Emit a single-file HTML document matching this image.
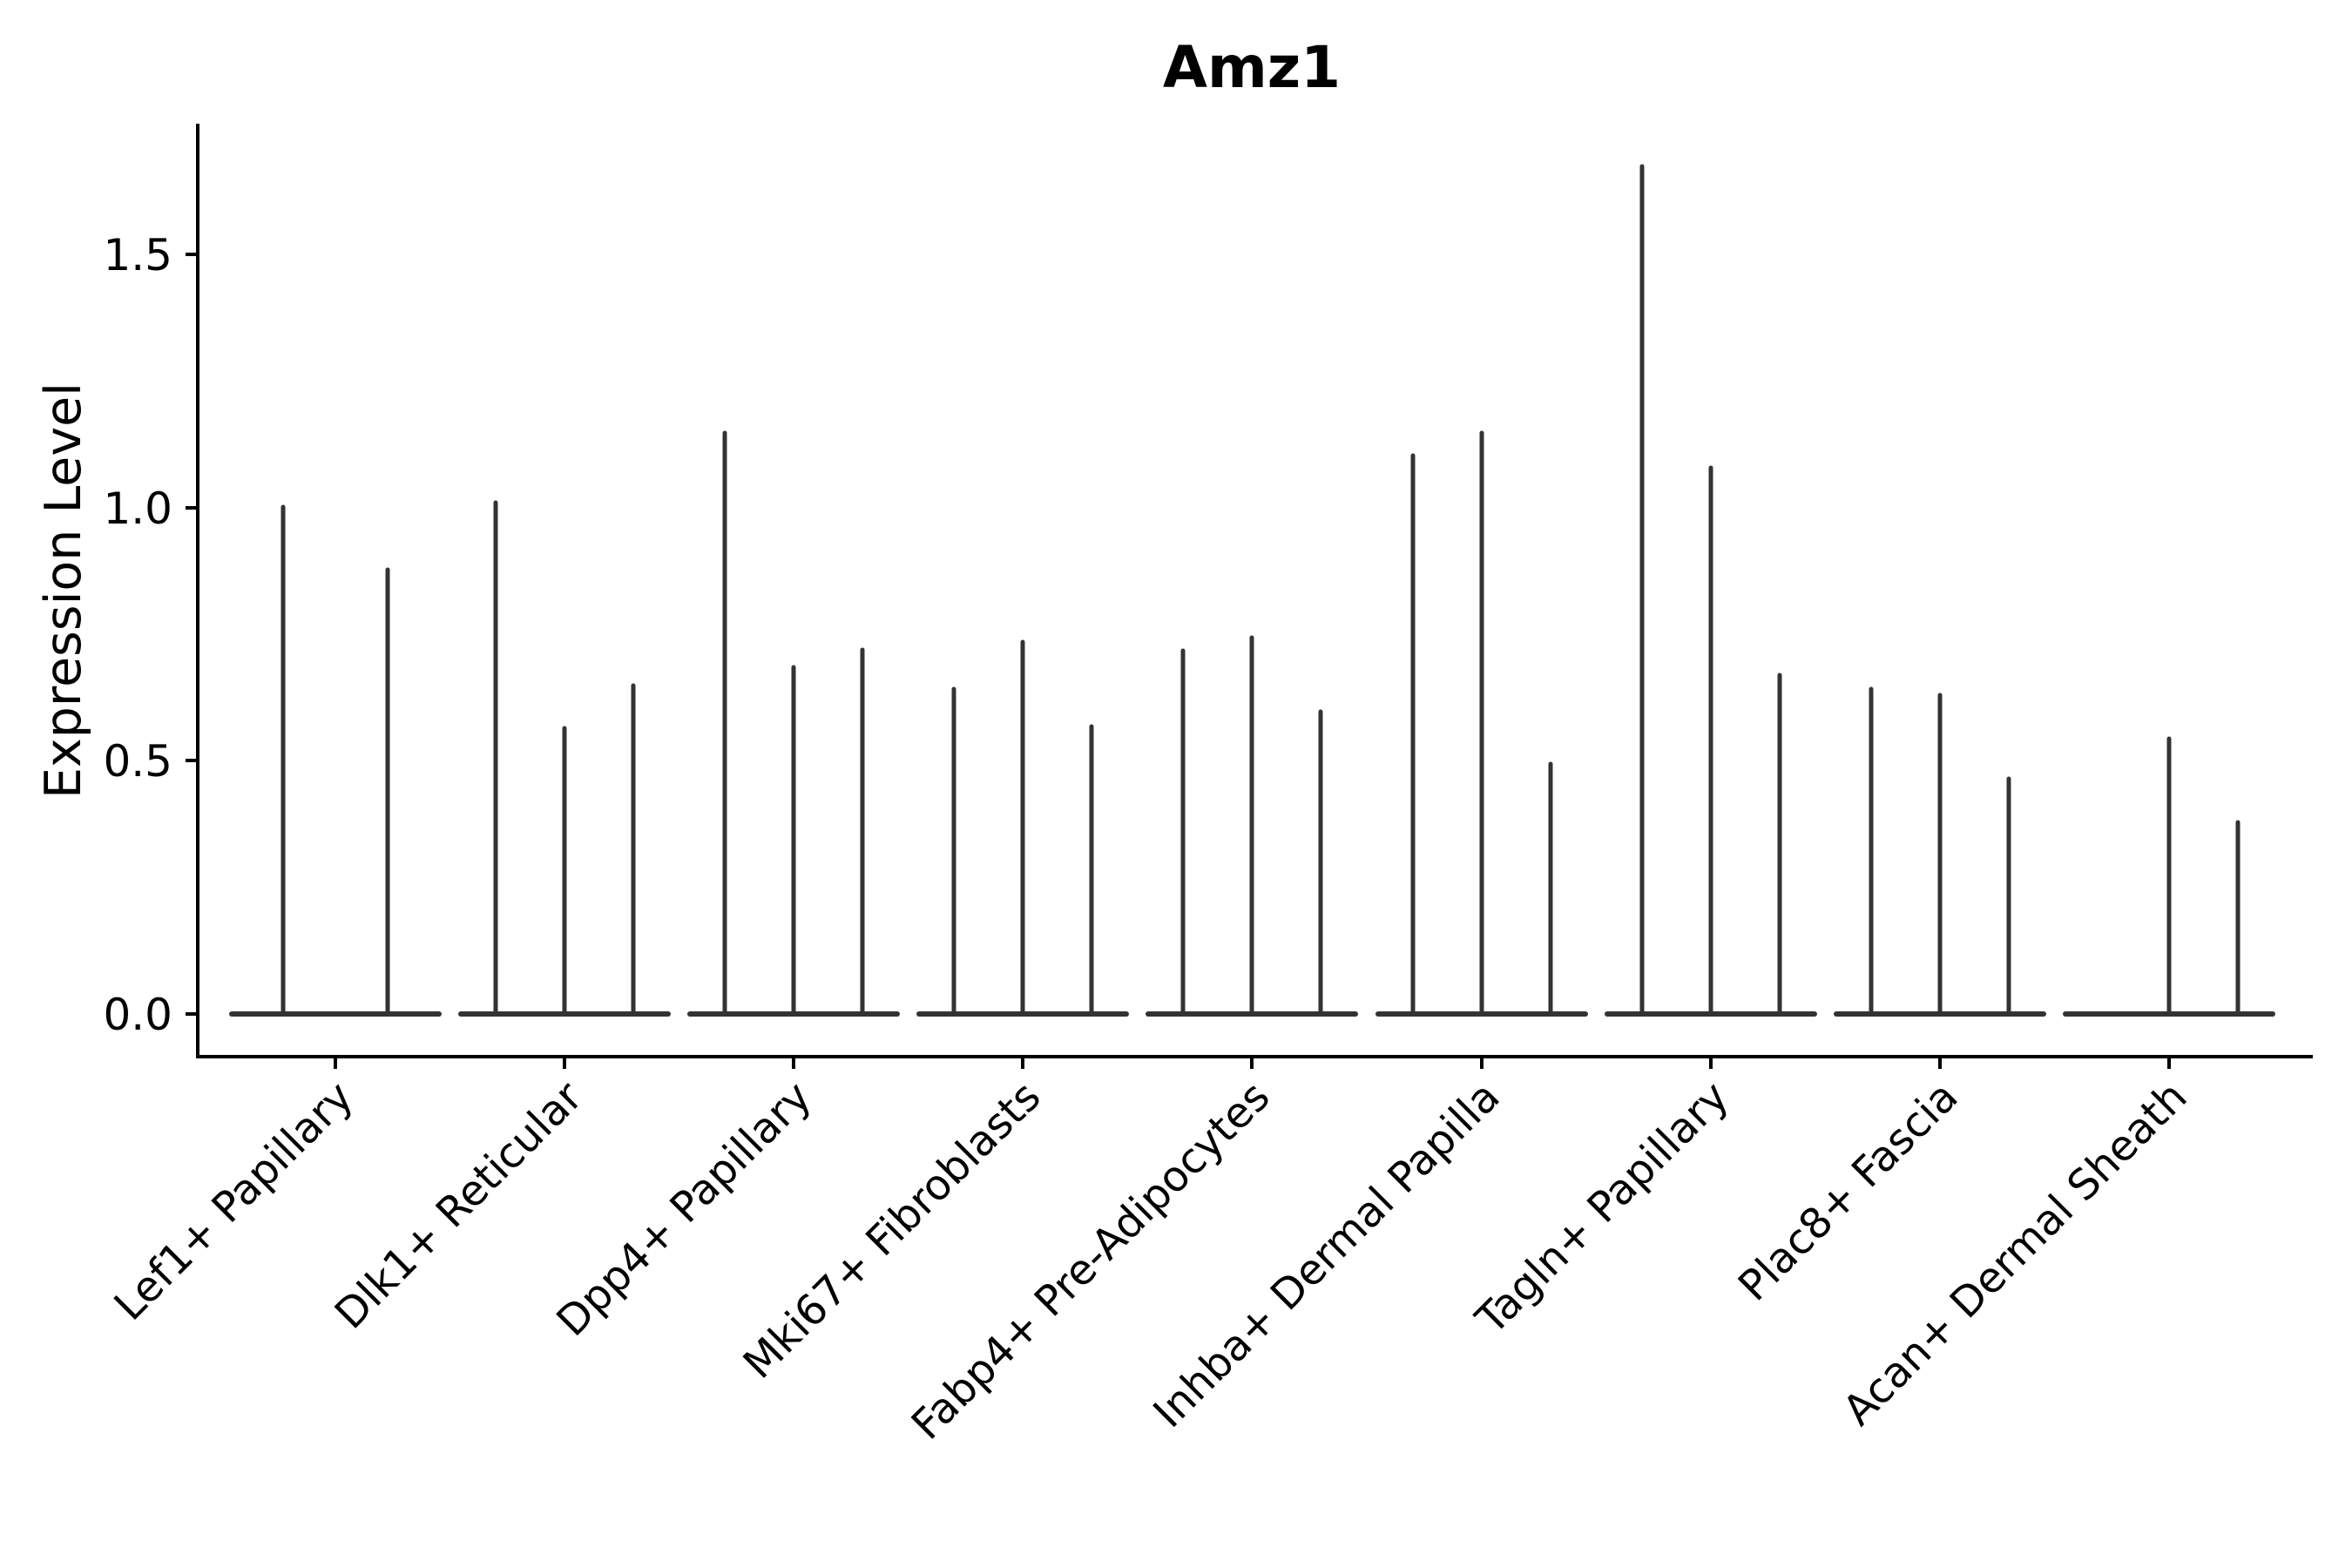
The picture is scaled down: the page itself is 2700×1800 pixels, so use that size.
<!DOCTYPE html>
<html><head><meta charset="utf-8"><style>
html,body{margin:0;padding:0;background:#fff;}
svg{display:block;}
text{font-family:"DejaVu Sans","Liberation Sans",sans-serif;fill:#000;}
</style></head><body>
<svg width="2700" height="1800" viewBox="0 0 2700 1800" xmlns="http://www.w3.org/2000/svg">
<rect width="2700" height="1800" fill="#fff"/>
<text x="1437" y="100" font-size="66" font-weight="bold" text-anchor="middle">Amz1</text>
<line x1="227" y1="142" x2="227" y2="1213" stroke="#000" stroke-width="4"/>
<line x1="225" y1="1213" x2="2655" y2="1213" stroke="#000" stroke-width="4"/>
<g stroke="#000" stroke-width="4">
<line x1="213" y1="1164" x2="227" y2="1164"/>
<line x1="213" y1="873" x2="227" y2="873"/>
<line x1="213" y1="583" x2="227" y2="583"/>
<line x1="213" y1="292" x2="227" y2="292"/>
</g>
<g font-size="50" text-anchor="end">
<text x="198" y="1182">0.0</text>
<text x="198" y="891">0.5</text>
<text x="198" y="601">1.0</text>
<text x="198" y="310">1.5</text>
</g>
<text transform="translate(92,678) rotate(-90)" font-size="57" text-anchor="middle">Expression Level</text>
<g stroke="#000" stroke-width="4">
<line x1="385" y1="1213" x2="385" y2="1227"/>
<line x1="648" y1="1213" x2="648" y2="1227"/>
<line x1="911" y1="1213" x2="911" y2="1227"/>
<line x1="1174" y1="1213" x2="1174" y2="1227"/>
<line x1="1437" y1="1213" x2="1437" y2="1227"/>
<line x1="1701" y1="1213" x2="1701" y2="1227"/>
<line x1="1964" y1="1213" x2="1964" y2="1227"/>
<line x1="2227" y1="1213" x2="2227" y2="1227"/>
<line x1="2490" y1="1213" x2="2490" y2="1227"/>
</g>
<g font-size="48" text-anchor="end">
<text transform="translate(408,1262) rotate(-45)">Lef1+ Papillary</text>
<text transform="translate(671,1262) rotate(-45)">Dlk1+ Reticular</text>
<text transform="translate(934,1262) rotate(-45)">Dpp4+ Papillary</text>
<text transform="translate(1197,1262) rotate(-45)">Mki67+ Fibroblasts</text>
<text transform="translate(1460,1262) rotate(-45)">Fabp4+ Pre-Adipocytes</text>
<text transform="translate(1724,1262) rotate(-45)">Inhba+ Dermal Papilla</text>
<text transform="translate(1987,1262) rotate(-45)">Tagln+ Papillary</text>
<text transform="translate(2250,1262) rotate(-45)">Plac8+ Fascia</text>
<text transform="translate(2513,1262) rotate(-45)">Acan+ Dermal Sheath</text>
</g>
<g stroke="#333" stroke-width="6" stroke-linecap="round">
<line x1="266" y1="1164" x2="504" y2="1164"/>
<line x1="529" y1="1164" x2="767" y2="1164"/>
<line x1="792" y1="1164" x2="1030" y2="1164"/>
<line x1="1055" y1="1164" x2="1293" y2="1164"/>
<line x1="1318" y1="1164" x2="1556" y2="1164"/>
<line x1="1582" y1="1164" x2="1820" y2="1164"/>
<line x1="1845" y1="1164" x2="2083" y2="1164"/>
<line x1="2108" y1="1164" x2="2346" y2="1164"/>
<line x1="2371" y1="1164" x2="2609" y2="1164"/>
</g>
<g stroke="#333" stroke-width="5" stroke-linecap="round">
<line x1="325" y1="582" x2="325" y2="1164"/>
<line x1="445" y1="654" x2="445" y2="1164"/>
<line x1="569" y1="577" x2="569" y2="1164"/>
<line x1="648" y1="836" x2="648" y2="1164"/>
<line x1="727" y1="787" x2="727" y2="1164"/>
<line x1="832" y1="497" x2="832" y2="1164"/>
<line x1="911" y1="766" x2="911" y2="1164"/>
<line x1="990" y1="746" x2="990" y2="1164"/>
<line x1="1095" y1="791" x2="1095" y2="1164"/>
<line x1="1174" y1="737" x2="1174" y2="1164"/>
<line x1="1253" y1="834" x2="1253" y2="1164"/>
<line x1="1358" y1="747" x2="1358" y2="1164"/>
<line x1="1437" y1="732" x2="1437" y2="1164"/>
<line x1="1516" y1="817" x2="1516" y2="1164"/>
<line x1="1622" y1="523" x2="1622" y2="1164"/>
<line x1="1701" y1="497" x2="1701" y2="1164"/>
<line x1="1780" y1="877" x2="1780" y2="1164"/>
<line x1="1885" y1="191" x2="1885" y2="1164"/>
<line x1="1964" y1="537" x2="1964" y2="1164"/>
<line x1="2043" y1="775" x2="2043" y2="1164"/>
<line x1="2148" y1="791" x2="2148" y2="1164"/>
<line x1="2227" y1="798" x2="2227" y2="1164"/>
<line x1="2306" y1="894" x2="2306" y2="1164"/>
<line x1="2490" y1="848" x2="2490" y2="1164"/>
<line x1="2569" y1="944" x2="2569" y2="1164"/>
</g>
</svg>
</body></html>
